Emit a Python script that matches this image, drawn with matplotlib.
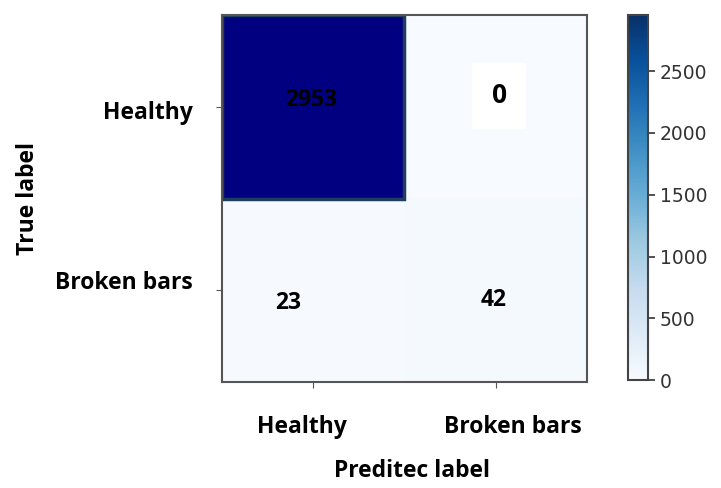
import numpy as np
import matplotlib
matplotlib.use('Agg')
import matplotlib.pyplot as plt
import matplotlib.transforms as mtransforms
from matplotlib.colors import Normalize
from matplotlib.cm import ScalarMappable
from matplotlib.patches import Rectangle

classes = ['Healthy', 'Broken bars']
cm = np.array([[2953, 0],
               [23, 42]])

fig = plt.figure(figsize=(7.21, 4.88), dpi=100)
ax = fig.add_axes([0.308, 0.217, 0.506, 0.752])
cax = fig.add_axes([0.871, 0.221, 0.028, 0.748])

# main cell image: Blues but the max cell shows as navy like the reference
cmap = plt.get_cmap('Blues').copy()
cmap.set_over('#000080')
ax.imshow(cm, cmap=cmap, norm=Normalize(0, cm.max() - 1), aspect='auto')

i, j = np.unravel_index(cm.argmax(), cm.shape)
ax.add_patch(Rectangle((j - 0.5, i - 0.5), 1, 1, fill=False,
                       edgecolor='#1f3d5c', linewidth=2.5))

tfont = dict(family=['Open Sans', 'DejaVu Sans'], weight='bold', size=16.5)
offsets = {(0, 0): (-0.01, -0.04), (0, 1): (0.02, -0.06), (1, 0): (-0.14, 0.07), (1, 1): (-0.01, 0.05)}
for r in range(cm.shape[0]):
    for c in range(cm.shape[1]):
        dx, dy = offsets[(r, c)]
        kw = dict(tfont)
        bbox = None
        if cm[r, c] == 0:
            bbox = dict(facecolor='white', edgecolor='none', pad=14)
            kw['size'] = 19
        ax.text(c + dx, r + dy, str(cm[r, c]), ha='center', va='center',
                color='black', bbox=bbox, **kw)

ax.set_xticks(range(len(classes)))
ax.set_yticks(range(len(classes)))
ax.set_xticklabels(classes, **tfont)
ax.set_yticklabels(classes, **tfont)
ax.tick_params(axis='x', pad=20, length=4, color='#555555')
ax.tick_params(axis='y', pad=17, length=4, color='#555555')

# nudge tick labels like the reference layout (pixels)
for lab, (dx, dy) in zip(ax.get_xticklabels(), [(-11, 0), (17, 0)]):
    lab.set_transform(lab.get_transform() + mtransforms.ScaledTranslation(dx / 100, -dy / 100, fig.dpi_scale_trans))
for lab, (dx, dy) in zip(ax.get_yticklabels(), [(0, 3), (0, -10)]):
    lab.set_transform(lab.get_transform() + mtransforms.ScaledTranslation(dx / 100, -dy / 100, fig.dpi_scale_trans))

ax.set_xlabel('Preditec label', **tfont)
ax.set_ylabel('True label', **tfont)
ax.xaxis.set_label_coords(0.52, -0.21)
ax.yaxis.set_label_coords(-0.50, 0.50)
for s in ax.spines.values():
    s.set_color('#555555')
    s.set_linewidth(1.5)

cb = fig.colorbar(ScalarMappable(Normalize(0, cm.max()), 'Blues'), cax=cax)
cb.set_ticks([0, 500, 1000, 1500, 2000, 2500])
cb.ax.tick_params(labelsize=13.5, labelcolor='#333333', color='#333333', length=5, width=1.2)
cb.outline.set_edgecolor('#444444')
cb.outline.set_linewidth(1.5)

fig.savefig('out.png', dpi=100)
